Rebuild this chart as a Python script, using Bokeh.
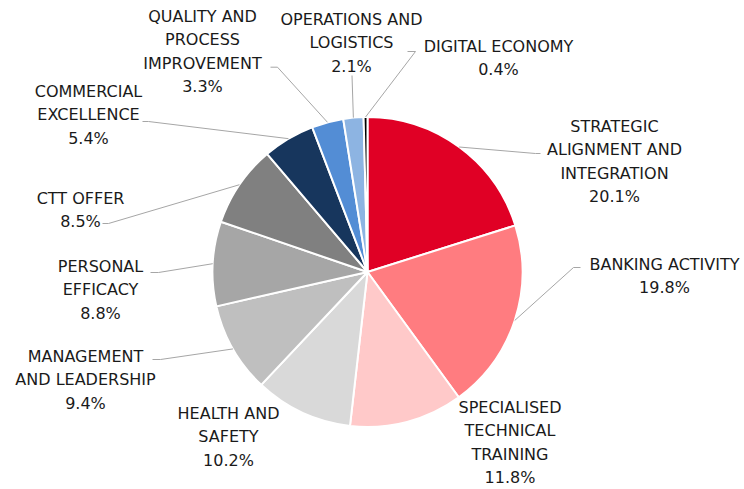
import numpy as np
from bokeh.plotting import figure
from bokeh.models import Range1d, ColumnDataSource
from bokeh.core.properties import value
from bokeh.embed import file_html
from bokeh.resources import INLINE

# ---- data ----
categories = [
    "STRATEGIC\nALIGNMENT AND\nINTEGRATION",
    "BANKING ACTIVITY",
    "SPECIALISED\nTECHNICAL\nTRAINING",
    "HEALTH AND\nSAFETY",
    "MANAGEMENT\nAND LEADERSHIP",
    "PERSONAL\nEFFICACY",
    "CTT OFFER",
    "COMMERCIAL\nEXCELLENCE",
    "QUALITY AND\nPROCESS\nIMPROVEMENT",
    "OPERATIONS AND\nLOGISTICS",
    "DIGITAL ECONOMY",
]
shares = [20.1, 19.8, 11.8, 10.2, 9.4, 8.8, 8.5, 5.4, 3.3, 2.1, 0.4]
colors = ["#E00025", "#FF7C80", "#FFC9C9", "#D9D9D9", "#BFBFBF", "#A6A6A6",
          "#808080", "#17365D", "#538DD5", "#8DB4E2", "#000000"]

# ---- layout (picture pixel coords) ----
W, H = 744, 489
CX, CY, R = 367, 271.5, 155
LINE_H = 23.3
label_pos = [(614, 126), (664, 264), (509.5, 407), (228, 413), (85, 356),
             (100, 266), (80, 198), (88, 91), (202, 16), (351, 19), (498, 46)]
leader_end = [(540, 153), (580, 267), None, None, (152, 359), (150, 272),
              (102, 223), (142, 121), (270, 66.7), (351.5, 75), (407, 51)]
leader_elbow = [(535, 153), (573, 267), None, None, (160, 359), (158, 272),
                (108, 223), (148, 121), (277, 66.7), (351.5, 75), (415, 51)]


def Y(py):
    return H - py


p = figure(width=W, height=H, x_range=Range1d(0, W), y_range=Range1d(0, H),
           output_backend="svg", toolbar_location=None, min_border=0)
p.axis.visible = False
p.grid.visible = False
p.outline_line_color = None
p.background_fill_color = "white"

total = sum(shares)
frac = np.array(shares) / total
cum = np.concatenate([[0], np.cumsum(frac)])
start = np.pi / 2 - cum[:-1] * 2 * np.pi
end = np.pi / 2 - cum[1:] * 2 * np.pi
mid = (start + end) / 2

src = ColumnDataSource(dict(start=start, end=end, color=colors))
p.wedge(x=CX, y=Y(CY), radius=R, start_angle="start", end_angle="end",
        direction="clock", fill_color="color", line_color="white", line_width=2,
        source=src)

# leader lines
for i in range(len(shares)):
    if leader_end[i] is None:
        continue
    ex = CX + R * np.cos(mid[i])
    ey = Y(CY) + R * np.sin(mid[i])
    xs = [ex, leader_elbow[i][0], leader_end[i][0]]
    ys = [ey, Y(leader_elbow[i][1]), Y(leader_end[i][1])]
    p.line(xs, ys, line_color="#A6A6A6", line_width=1)

# labels
tx, ty, tt = [], [], []
for i, cat in enumerate(categories):
    lines = cat.split("\n") + [f"{shares[i]:.1f}%"]
    x0, y0 = label_pos[i]
    for k, ln in enumerate(lines):
        tx.append(x0)
        ty.append(Y(y0 + k * LINE_H))
        tt.append(ln)
p.text(x=tx, y=ty, text=tt, text_align="center", text_baseline="middle",
       text_font=value("DejaVu Sans"), text_font_size="16px", text_color="#1a1a1a")

open("out.html", "w").write(file_html(p, INLINE))
